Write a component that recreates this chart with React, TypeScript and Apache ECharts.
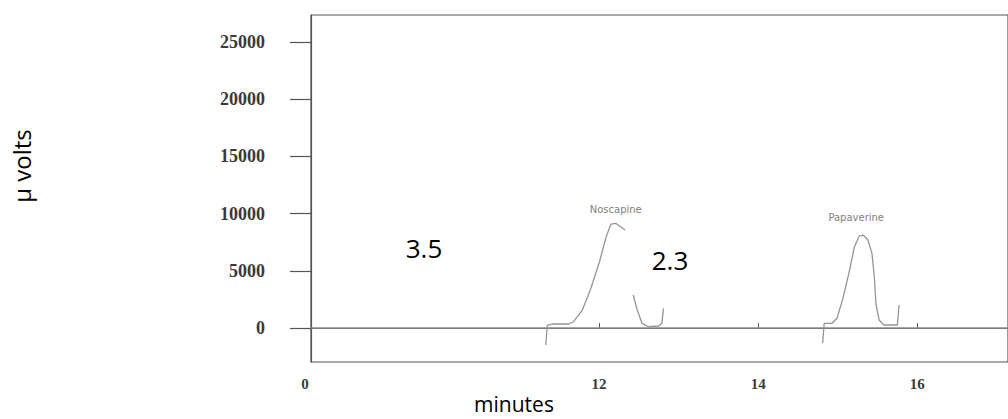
import React, { useEffect, useRef } from "react";
import * as echarts from "echarts";

// Axis ticks / labels
const yTickValues = [0, 5000, 10000, 15000, 20000, 25000];
const xTickValues = [12, 14, 16];
const xOriginLabel = "0";
const xRange = [8.38, 17.14];
const yRange = [-2970, 27360];

// Chromatogram baseline (µV vs minutes)
const baselineTime = [8.38, 17.14];
const baselineSignal = [0, 0];

// Noscapine peak trace ("-" = trace hidden behind annotation)
const noscapineTime = [11.33, 11.35, 11.41, 11.62, 11.68, 11.79, 11.89, 12.0, 12.09, 12.15, 12.21, 12.27, 12.33, 12.38, 12.43, 12.48, 12.54, 12.62, 12.75, 12.79, 12.81];
const noscapineSignal: (number | string)[] = [-1486, 262, 350, 350, 551, 1573, 3321, 5655, 7980, 9090, 9150, 8854, 8565, "-", 2884, 1573, 411, 114, 175, 411, 1722];
const noscapineApexIndex = 10;

// Papaverine peak trace
const papaverineTime = [14.81, 14.83, 14.93, 14.99, 15.06, 15.14, 15.21, 15.27, 15.32, 15.38, 15.43, 15.46, 15.48, 15.52, 15.58, 15.75, 15.77];
const papaverineSignal = [-1337, 411, 411, 848, 2447, 4781, 7106, 8041, 8128, 7691, 6529, 4484, 2159, 699, 262, 262, 2010];
const papaverineApexIndex = 8;

// Annotations
const peakNames = ["Noscapine", "Papaverine"];
const annotations = ["3.5", "2.3"];
const xAxisTitle = "minutes";
const yAxisTitle = "µ volts";

function peakMark(times: number[], signals: (number | string)[], apex: number, name: string, offset: number[]) {
  return {
    silent: true,
    symbol: "circle",
    symbolSize: 1,
    itemStyle: { color: "transparent" },
    data: [
      {
        coord: [times[apex], signals[apex]],
        label: {
          show: true,
          formatter: name,
          position: "top",
          distance: 8,
          offset,
          fontFamily: "DejaVu Sans",
          fontSize: 10,
          color: "#808080",
        },
      },
    ],
  };
}

export default function App() {
  const ref = useRef<HTMLDivElement>(null);
  useEffect(() => {
    if (!ref.current) return;
    const chart = echarts.init(ref.current, null, { renderer: "svg" });
    const axisColor = "#555";
    const serifLabel = {
      fontFamily: "Liberation Serif",
      fontWeight: "bold",
      color: "#3a3a3a",
    };
    chart.setOption({
      animation: false,
      backgroundColor: "#ffffff",
      grid: {
        left: 311,
        top: 15,
        right: -4,
        bottom: 57,
        show: true,
        borderColor: axisColor,
        borderWidth: 1.2,
        backgroundColor: "transparent",
      },
      xAxis: {
        type: "value",
        min: xRange[0],
        max: xRange[1],
        axisLine: { show: true, lineStyle: { color: axisColor, width: 1.2 } },
        axisTick: {
          show: true,
          inside: true,
          length: 5,
          customValues: xTickValues,
          lineStyle: { color: axisColor },
        },
        axisLabel: {
          ...serifLabel,
          fontSize: 15,
          margin: 14,
          showMinLabel: true,
          customValues: [xRange[0], ...xTickValues],
          formatter: (v: number) => (v === xRange[0] ? `{z|${xOriginLabel}}` : String(v)),
          rich: {
            z: { ...serifLabel, fontSize: 15, padding: [0, 12, 0, 0] },
          },
        },
        splitLine: { show: false },
      },
      yAxis: {
        type: "value",
        min: yRange[0],
        max: yRange[1],
        axisLine: { show: true, lineStyle: { color: axisColor, width: 1.2 } },
        axisTick: {
          show: true,
          length: 21,
          customValues: yTickValues,
          lineStyle: { color: axisColor, width: 1.2 },
        },
        axisLabel: {
          ...serifLabel,
          fontSize: 18,
          margin: 46,
          customValues: yTickValues,
          formatter: (v: number) => String(v),
        },
        splitLine: { show: false },
      },
      series: [
        {
          type: "line",
          name: "baseline",
          data: baselineTime.map((t, i) => [t, baselineSignal[i]]),
          showSymbol: false,
          lineStyle: { color: "#8a8a8a", width: 1.5 },
          silent: true,
        },
        {
          type: "line",
          name: peakNames[0],
          data: noscapineTime.map((t, i) => [t, noscapineSignal[i]]),
          showSymbol: false,
          symbol: "none",
          connectNulls: false,
          lineStyle: { color: "#959595", width: 1.3 },
          markPoint: peakMark(noscapineTime, noscapineSignal, noscapineApexIndex, peakNames[0], [0, 0]),
        },
        {
          type: "line",
          name: peakNames[1],
          data: papaverineTime.map((t, i) => [t, papaverineSignal[i]]),
          showSymbol: false,
          symbol: "none",
          lineStyle: { color: "#959595", width: 1.3 },
          markPoint: peakMark(papaverineTime, papaverineSignal, papaverineApexIndex, peakNames[1], [-7, -4]),
        },
      ],
      graphic: [
        {
          type: "text",
          x: 424,
          y: 248,
          z: 100,
          style: {
            text: annotations[0],
            fontFamily: "Open Sans",
            fontSize: 26,
            fill: "#000",
            align: "center",
            verticalAlign: "middle",
          },
        },
        {
          type: "text",
          x: 670,
          y: 260,
          z: 100,
          style: {
            text: annotations[1],
            fontFamily: "Open Sans",
            fontSize: 26,
            fill: "#000",
            align: "center",
            verticalAlign: "middle",
          },
        },
        {
          type: "text",
          x: 514,
          y: 404,
          z: 100,
          style: {
            text: xAxisTitle,
            fontFamily: "Open Sans",
            fontSize: 21,
            lineHeight: 21,
            fill: "#000",
            align: "center",
            verticalAlign: "middle",
          },
        },
        {
          type: "text",
          x: 21,
          y: 166,
          rotation: Math.PI / 2,
          z: 100,
          style: {
            text: yAxisTitle,
            fontFamily: "Open Sans",
            fontSize: 24,
            fill: "#000",
            align: "center",
            verticalAlign: "middle",
          },
        },
      ],
    });
    return () => chart.dispose();
  }, []);
  return (
    <div
      ref={ref}
      style={{ position: "absolute", left: 0, top: 0, width: 1008, height: 419, overflow: "hidden" }}
    />
  );
}
